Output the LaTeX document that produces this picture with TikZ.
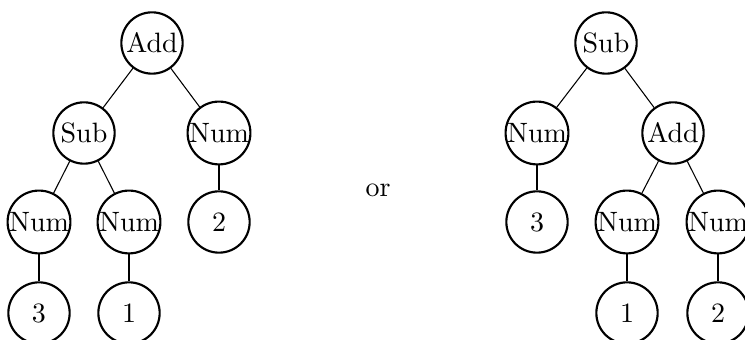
\documentclass[tikz,border=0pt]{standalone}
\usepackage{tikz}
\tikzset{
    every node/.style={font=\fontsize{10.5}{12}\selectfont},
    tnode/.style={draw, circle, thick, minimum size=23pt, inner sep=0pt},
    tedge/.style={thin}
}

\begin{document}
\begin{tikzpicture}[x=0.375pt, y=-0.375pt]
        \useasboundingbox (0,0) rectangle (745,340);
        % left tree
        \node[tnode] (ladd) at (152,43) {Add};
        \node[tnode] (lsub) at (84,133) {Sub};
        \node[tnode] (lnumr) at (219,133) {Num};
        \node[tnode] (lnuma) at (39,222) {Num};
        \node[tnode] (lnumb) at (129,222) {Num};
        \node[tnode] (ltwo) at (219,222) {2};
        \node[tnode] (lthree) at (39,313) {3};
        \node[tnode] (lone) at (129,313) {1};

        \draw[tedge] (ladd) -- (lsub);
        \draw[tedge] (ladd) -- (lnumr);
        \draw[tedge] (lsub) -- (lnuma);
        \draw[tedge] (lsub) -- (lnumb);
        \draw[tedge] (lnumr) -- (ltwo);
        \draw[tedge] (lnuma) -- (lthree);
        \draw[tedge] (lnumb) -- (lone);

        \node (or) at (378,190) {or};

        % right tree
        \node[tnode] (rsub) at (606,43) {Sub};
        \node[tnode] (rnuml) at (537,133) {Num};
        \node[tnode] (radd) at (673,133) {Add};
        \node[tnode] (rthree) at (537,222) {3};
        \node[tnode] (rnuma) at (627,222) {Num};
        \node[tnode] (rnumb) at (718,222) {Num};
        \node[tnode] (rone) at (627,313) {1};
        \node[tnode] (rtwo) at (718,313) {2};

        \draw[tedge] (rsub) -- (rnuml);
        \draw[tedge] (rsub) -- (radd);
        \draw[tedge] (rnuml) -- (rthree);
        \draw[tedge] (radd) -- (rnuma);
        \draw[tedge] (radd) -- (rnumb);
        \draw[tedge] (rnuma) -- (rone);
        \draw[tedge] (rnumb) -- (rtwo);
    \end{tikzpicture}
\end{document}
